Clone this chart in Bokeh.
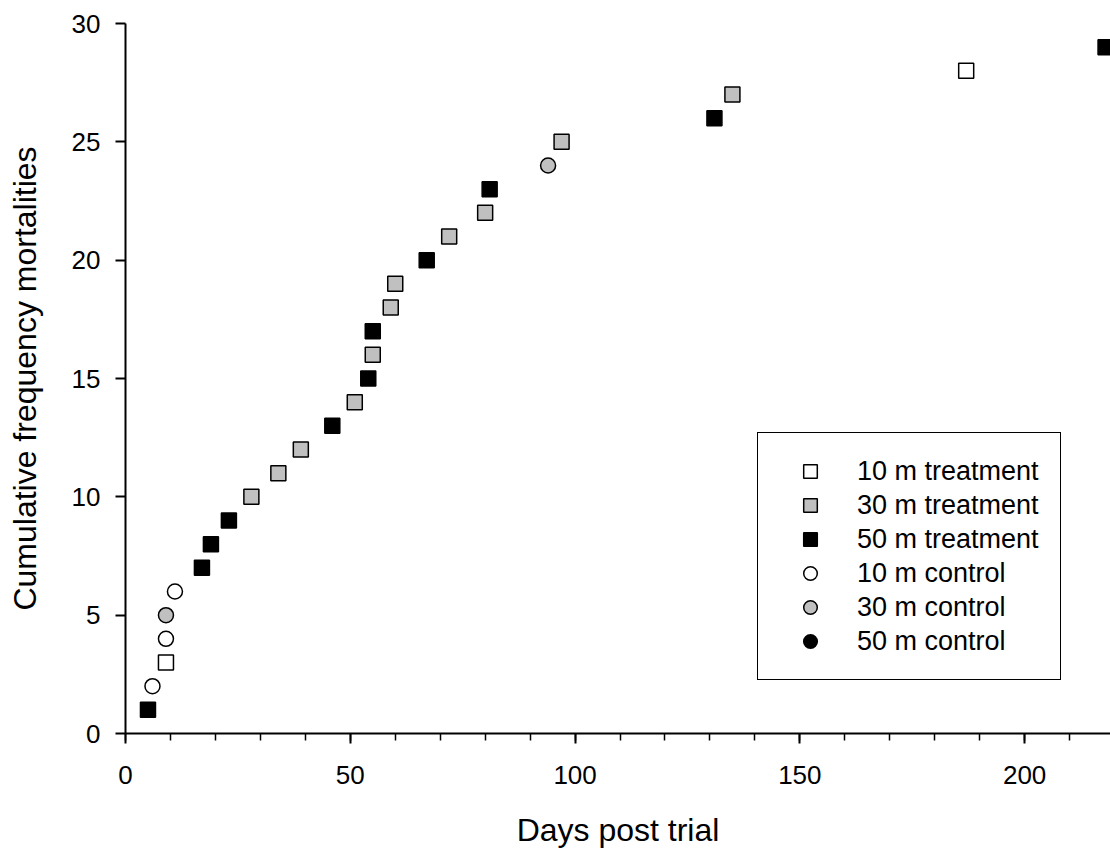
from bokeh.plotting import figure
from bokeh.models import ColumnDataSource, Legend, LegendItem, SingleIntervalTicker, Range1d
from bokeh.embed import file_html
from bokeh.resources import INLINE

# Data (days post trial, cumulative frequency of mortalities)
t10_days = [9, 187]
t10_cum = [3, 28]
t30_days = [28, 34, 39, 51, 55, 59, 60, 72, 80, 97, 135]
t30_cum = [10, 11, 12, 14, 16, 18, 19, 21, 22, 25, 27]
t50_days = [5, 17, 19, 23, 46, 54, 55, 67, 81, 131, 218]
t50_cum = [1, 7, 8, 9, 13, 15, 17, 20, 23, 26, 29]
c10_days = [6, 9, 11]
c10_cum = [2, 4, 6]
c30_days = [9, 94]
c30_cum = [5, 24]
c50_days = []   # no 50 m control mortalities shown
c50_cum = []

labels = ["10 m treatment", "30 m treatment", "50 m treatment",
          "10 m control", "30 m control", "50 m control"]

FONT = "Liberation Sans"
GREY = "#c0c0c0"

p = figure(width=1110, height=850, output_backend="svg", toolbar_location=None,
           x_range=Range1d(0, 219.1), y_range=Range1d(0, 30),
           min_border_left=125, min_border_top=23, min_border_right=0,
           min_border_bottom=117)
p.outline_line_color = None
p.grid.visible = False
p.background_fill_color = "white"
p.border_fill_color = "white"

series = [
    (t10_days, t10_cum, "square", "white"),
    (t30_days, t30_cum, "square", GREY),
    (t50_days, t50_cum, "square", "black"),
    (c10_days, c10_cum, "circle", "white"),
    (c30_days, c30_cum, "circle", GREY),
    (c50_days, c50_cum, "circle", "black"),
]

renderers = []
for xs, ys, marker, fill in series:
    xs = list(xs) if len(xs) else [float("nan")]   # placeholder so the legend swatch is drawn
    ys = list(ys) if len(ys) else [float("nan")]
    src = ColumnDataSource(dict(x=xs, y=ys))
    r = p.scatter("x", "y", source=src, marker=marker, size=15,
                  fill_color=fill, line_color="black", line_width=1.5)
    renderers.append(r)

# Axes
p.xaxis.ticker = SingleIntervalTicker(interval=50, num_minor_ticks=5)
p.yaxis.ticker = SingleIntervalTicker(interval=5, num_minor_ticks=0)
for ax in (p.xaxis[0], p.yaxis[0]):
    ax.axis_line_width = 2
    ax.axis_line_color = "black"
    ax.major_tick_line_width = 2
    ax.major_tick_line_color = "black"
    ax.minor_tick_line_width = 1.5
    ax.minor_tick_line_color = "black"
    ax.major_tick_in = 0
    ax.major_tick_out = 10
    ax.minor_tick_in = 0
    ax.minor_tick_out = 7
    ax.major_label_text_font = FONT
    ax.major_label_text_font_size = "26px"
    ax.major_label_text_color = "black"
    ax.axis_label_text_font = FONT
    ax.axis_label_text_font_size = "32px"
    ax.axis_label_text_font_style = "normal"
    ax.axis_label_text_color = "black"

p.xaxis.axis_label = "Days post trial"
p.yaxis.axis_label = "Cumulative frequency mortalities"
p.xaxis.major_label_standoff = 22
p.yaxis.major_label_standoff = 15
p.xaxis.axis_label_standoff = 25
p.yaxis.axis_label_standoff = 26

items = [LegendItem(label=lab, renderers=[r]) for lab, r in zip(labels, renderers)]
legend = Legend(items=items, location=(632, 53),
                border_line_color="black", border_line_width=1.5,
                border_line_alpha=1.0,
                padding=21, margin=0, spacing=0,
                glyph_width=62, glyph_height=34, label_height=34,
                label_standoff=16,
                label_text_font=FONT, label_text_font_size="27px",
                label_text_color="black", background_fill_alpha=1)
p.add_layout(legend, "center")

open("out.html", "w").write(file_html(p, INLINE))
